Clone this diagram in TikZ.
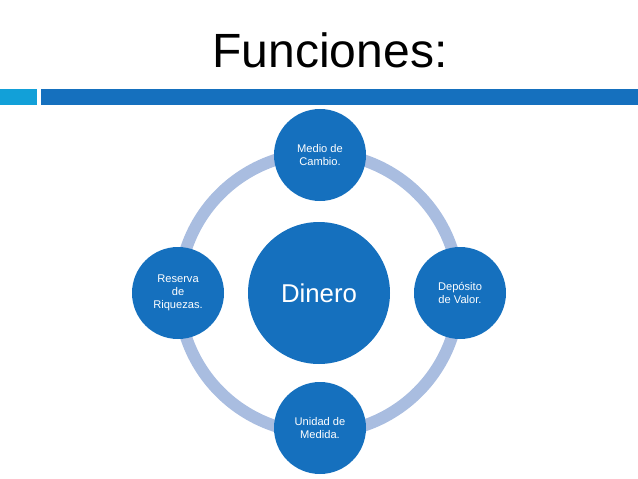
\documentclass[tikz,border=0pt]{standalone}
\usepackage{fontspec}
\setmainfont{Liberation Sans}
\definecolor{bluefill}{HTML}{1570BE}
\definecolor{ringcol}{HTML}{A9BDE0}
\definecolor{barlight}{HTML}{12A0D8}
\begin{document}
\begin{tikzpicture}[x=0.03cm,y=-0.03cm, line width=1pt,
  small/.style={circle, fill=bluefill, minimum size=92*0.03cm, inner sep=0pt, text=white, align=center, font=\fontsize{9.5}{11}\selectfont},
  big/.style={circle, fill=bluefill, minimum size=142*0.03cm, text=white, font=\fontsize{22}{26}\selectfont}]
\useasboundingbox (0,0) rectangle (638,479);

\node at (330,50) {\fontsize{41}{46}\selectfont Funciones:};
\fill[barlight] (0,89) rectangle (37,105);
\fill[bluefill] (41,89) rectangle (638,105);

\draw[ringcol, line width=12*0.03cm] (319,293) circle (140);

\node[big] (dinero) at (319,293) {Dinero};
\node[small] (medio) at (320,155) {Medio de\\Cambio.};
\node[small] (deposito) at (460,293) {Depósito\\de Valor.};
\node[small] (unidad) at (320,428) {Unidad de\\Medida.};
\node[small] (reserva) at (178,293) {Reserva\\de\\Riquezas.};
\end{tikzpicture}
\end{document}
